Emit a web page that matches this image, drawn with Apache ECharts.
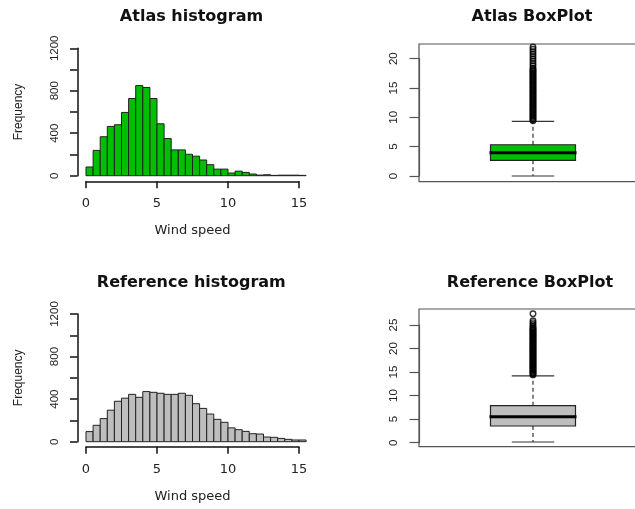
<!DOCTYPE html>
<html>
<head>
<meta charset="utf-8">
<script src="https://cdn.jsdelivr.net/npm/echarts@6/dist/echarts.min.js"></script>
<style>
html,body{margin:0;padding:0;background:#fff;}
#c{width:635px;height:509px;}
</style>
</head>
<body>
<div id="c"></div>
<script>
// ---------- data ----------
const binStarts = [0,0.5,1,1.5,2,2.5,3,3.5,4,4.5,5,5.5,6,6.5,7,7.5,8,8.5,9,9.5,10,10.5,11,11.5,12,12.5,13,13.5,14,14.5,15];
const binWidth = 0.5;
const atlasCounts = [82,238,367,464,480,596,727,849,831,727,489,350,243,243,202,184,148,104,62,62,25,43,31,16,6,9,3,5,5,5,3];
const referenceCounts = [95,154,217,296,380,409,445,417,471,464,455,445,445,455,436,357,313,260,210,182,130,113,97,75,72,44,41,31,22,16,16];
const histXTicks = [0,5,10,15];
const histYTicks = [0,200,400,600,800,1000,1200];
const histYTickLabels = [0,400,800,1200];

// boxplot stats: [lower whisker, Q1, median, Q3, upper whisker]
const atlasBoxStats = [0,2.67,3.97,5.33,9.32];
const referenceBoxStats = [0.15,3.55,5.53,7.87,14.2];
const atlasOutliers = [22.0,21.6,21.2,20.8,20.4,20.0,19.6,19.2,18.8,
  18.4,18.2,18.0,17.8,17.6,17.4,17.2,17.0,16.8,16.6,16.4,16.2,16.0,15.8,15.6,15.4,15.2,15.0,14.8,14.6,14.4,14.2,14.0,
  13.8,13.6,13.4,13.2,13.0,12.8,12.6,12.4,12.2,12.0,11.8,11.6,11.4,11.2,11.0,10.8,10.6,10.4,10.2,10.0,9.8,9.6,9.4];
const referenceOutliers = [27.4,25.9,25.5,25.1,24.7,
  24.4,24.2,24.0,23.8,23.6,23.4,23.2,23.0,22.8,22.6,22.4,22.2,22.0,21.8,21.6,21.4,21.2,21.0,20.8,20.6,20.4,20.2,20.0,
  19.8,19.6,19.4,19.2,19.0,18.8,18.6,18.4,18.2,18.0,17.8,17.6,17.4,17.2,17.0,16.8,16.6,16.4,16.2,16.0,15.8,15.6,15.4,
  15.2,15.0,14.8,14.6,14.4];
const atlasBoxTicks = [0,5,10,15,20];
const referenceBoxTicks = [0,5,10,15,20,25];
const titles = ['Atlas histogram','Atlas BoxPlot','Reference histogram','Reference BoxPlot'];
const xName = 'Wind speed';
const yName = 'Frequency';

// ---------- styles ----------
const GREEN = '#00bf00';
const GRAY = '#bebebe';
const BOX_HALF = 0.1864;
const CAP_HALF = 0.093;
const TXT = '#222';

function histItem(color) {
  return function (params, api) {
    const x0 = api.value(0);
    const h = api.value(1);
    const p0 = api.coord([x0, 0]);
    const p1 = api.coord([x0 + binWidth, h]);
    return {
      type: 'rect',
      shape: { x: p0[0], y: p1[1], width: p1[0] - p0[0], height: p0[1] - p1[1] },
      style: { fill: color, stroke: '#222', lineWidth: 1 }
    };
  };
}

function boxItem(fill) {
  return function (params, api) {
    const x = api.value(0);
    const lo = api.value(1), q1 = api.value(2), med = api.value(3), q3 = api.value(4), hi = api.value(5);
    const bl = api.coord([x - BOX_HALF, q1]);
    const tr = api.coord([x + BOX_HALF, q3]);
    const m = api.coord([x, med]);
    const pLo = api.coord([x - CAP_HALF, lo]);
    const pHi = api.coord([x + CAP_HALF, hi]);
    const cx = m[0];
    const wh = { stroke: '#333', lineWidth: 1.2 };
    return {
      type: 'group',
      children: [
        { type: 'line', shape: { x1: cx, y1: tr[1], x2: cx, y2: pHi[1] }, style: Object.assign({ lineDash: [4, 3] }, wh) },
        { type: 'line', shape: { x1: cx, y1: bl[1], x2: cx, y2: pLo[1] }, style: Object.assign({ lineDash: [4, 3] }, wh) },
        { type: 'line', shape: { x1: pLo[0], y1: pHi[1], x2: pHi[0], y2: pHi[1] }, style: wh },
        { type: 'line', shape: { x1: pLo[0], y1: pLo[1], x2: pHi[0], y2: pLo[1] }, style: wh },
        { type: 'rect', shape: { x: bl[0], y: tr[1], width: tr[0] - bl[0], height: bl[1] - tr[1] }, style: { fill: fill, stroke: '#222', lineWidth: 1.2 } },
        { type: 'line', shape: { x1: bl[0] - 1, y1: m[1], x2: tr[0] + 1, y2: m[1] }, style: { stroke: '#000', lineWidth: 3 } }
      ]
    };
  };
}

function histXAxis(gridIndex, offset) {
  return {
    gridIndex: gridIndex, type: 'value',
    min: histXTicks[0], max: histXTicks[histXTicks.length - 1], interval: histXTicks[1] - histXTicks[0],
    offset: offset,
    axisLine: { show: true, onZero: false, lineStyle: { color: '#111', width: 1.5 } },
    axisTick: { show: true, inside: false, length: 7, lineStyle: { color: '#111', width: 1.5 } },
    axisLabel: { show: true, margin: 16, color: TXT, fontFamily: 'DejaVu Sans', fontSize: 13 },
    splitLine: { show: false },
    name: xName, nameLocation: 'middle', nameGap: 43,
    nameTextStyle: { color: TXT, fontFamily: 'DejaVu Sans', fontSize: 13 }
  };
}
function histYAxis(gridIndex, offset) {
  return {
    gridIndex: gridIndex, type: 'value',
    min: histYTicks[0], max: histYTicks[histYTicks.length - 1], interval: histYTicks[1] - histYTicks[0],
    offset: offset,
    axisLine: { show: true, onZero: false, lineStyle: { color: '#111', width: 1.5 } },
    axisTick: { show: true, inside: false, length: 7.5, lineStyle: { color: '#111', width: 1.5 } },
    axisLabel: {
      show: true, rotate: 90, margin: 17, color: TXT, fontFamily: 'Liberation Sans', fontSize: 11.5,
      formatter: function (v) { return histYTickLabels.indexOf(v) >= 0 ? String(v) : ''; }
    },
    splitLine: { show: false },
    name: yName, nameLocation: 'middle', nameGap: 53, nameRotate: 90,
    nameTextStyle: { color: TXT, fontFamily: 'Liberation Sans', fontSize: 12 }
  };
}
function boxYAxis(gridIndex, ticks) {
  return {
    gridIndex: gridIndex, type: 'value',
    min: ticks[0], max: ticks[ticks.length - 1], interval: ticks[1] - ticks[0],
    axisLine: { show: true, onZero: false, lineStyle: { color: '#555', width: 1.2 } },
    axisTick: { show: true, inside: false, length: 9.5, lineStyle: { color: '#555', width: 1.2 } },
    axisLabel: { show: true, rotate: 90, margin: 19, color: TXT, fontFamily: 'Liberation Sans', fontSize: 11.5 },
    splitLine: { show: false }
  };
}
function hiddenAxis(gridIndex, min, max) {
  return { gridIndex: gridIndex, type: 'value', min: min, max: max, show: false, splitLine: { show: false } };
}

const chart = echarts.init(document.getElementById('c'), null, { renderer: 'canvas' });
const titleFont = 'bold 16px "DejaVu Sans"';
chart.setOption({
  animation: false,
  backgroundColor: '#fff',
  grid: [
    { left: 86, top: 48.3, width: 213, height: 127.4, outerBoundsMode: 'none', containLabel: false },
    { left: 86, top: 314, width: 213, height: 127.7, outerBoundsMode: 'none', containLabel: false },
    { left: 419, top: 58.7, width: 228, height: 117.3, outerBoundsMode: 'none', containLabel: false },
    { left: 419, top: 325, width: 228, height: 117.7, outerBoundsMode: 'none', containLabel: false },
    { left: 419, top: 44, width: 240, height: 137.7, show: true, borderColor: '#555', borderWidth: 1.2, backgroundColor: 'transparent', outerBoundsMode: 'none', containLabel: false },
    { left: 419, top: 309, width: 240, height: 137.7, show: true, borderColor: '#555', borderWidth: 1.2, backgroundColor: 'transparent', outerBoundsMode: 'none', containLabel: false }
  ],
  xAxis: [
    histXAxis(0, 5.6),
    histXAxis(1, 5),
    hiddenAxis(2, 0.5, 1.5),
    hiddenAxis(3, 0.5, 1.5),
    hiddenAxis(4, 0, 1),
    hiddenAxis(5, 0, 1)
  ],
  yAxis: [
    histYAxis(0, 8.5),
    histYAxis(1, 8.5),
    boxYAxis(2, atlasBoxTicks),
    boxYAxis(3, referenceBoxTicks),
    hiddenAxis(4, 0, 1),
    hiddenAxis(5, 0, 1)
  ],
  graphic: [
    { type: 'text', x: 191.5, y: 17.2, style: { text: titles[0], font: titleFont, fill: '#111', align: 'center', verticalAlign: 'middle' } },
    { type: 'text', x: 532, y: 17.2, style: { text: titles[1], font: titleFont, fill: '#111', align: 'center', verticalAlign: 'middle' } },
    { type: 'text', x: 191.3, y: 282.9, style: { text: titles[2], font: titleFont, fill: '#111', align: 'center', verticalAlign: 'middle' } },
    { type: 'text', x: 530, y: 282.9, style: { text: titles[3], font: titleFont, fill: '#111', align: 'center', verticalAlign: 'middle' } }
  ],
  series: [
    { type: 'custom', xAxisIndex: 0, yAxisIndex: 0, renderItem: histItem(GREEN), clip: false,
      data: binStarts.map(function (s, i) { return [s, atlasCounts[i]]; }) },
    { type: 'custom', xAxisIndex: 1, yAxisIndex: 1, renderItem: histItem(GRAY), clip: false,
      data: binStarts.map(function (s, i) { return [s, referenceCounts[i]]; }) },
    { type: 'custom', xAxisIndex: 2, yAxisIndex: 2, renderItem: boxItem(GREEN), clip: false,
      data: [[1].concat(atlasBoxStats)] },
    { type: 'custom', xAxisIndex: 3, yAxisIndex: 3, renderItem: boxItem(GRAY), clip: false,
      data: [[1].concat(referenceBoxStats)] },
    { type: 'scatter', xAxisIndex: 2, yAxisIndex: 2, clip: false, symbol: 'circle', symbolSize: 5.5,
      itemStyle: { color: 'rgba(0,0,0,0)', borderColor: '#000', borderWidth: 1.4 },
      data: atlasOutliers.map(function (v) { return [1, v]; }) },
    { type: 'scatter', xAxisIndex: 3, yAxisIndex: 3, clip: false, symbol: 'circle', symbolSize: 5.5,
      itemStyle: { color: 'rgba(0,0,0,0)', borderColor: '#000', borderWidth: 1.4 },
      data: referenceOutliers.map(function (v) { return [1, v]; }) }
  ]
});
</script>
</body>
</html>
